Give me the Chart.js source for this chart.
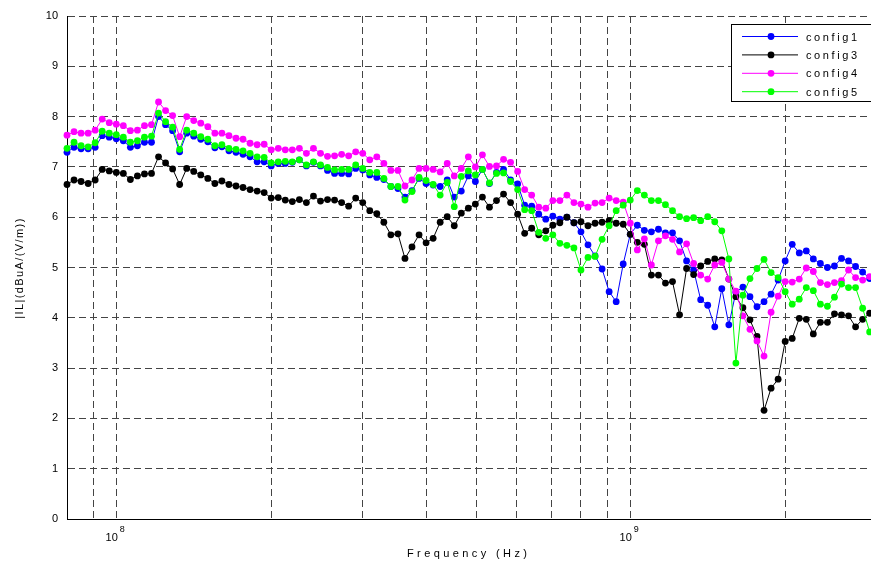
<!DOCTYPE html>
<html>
<head>
<meta charset="utf-8">
<script src="https://cdn.jsdelivr.net/npm/chart.js@4.4.1/dist/chart.umd.min.js"></script>
<style>
  html, body { margin: 0; padding: 0; background: #fff; overflow: hidden; }
  #wrap { width: 871px; height: 565px; overflow: hidden; position: relative; }
  #chart { display: block; }
</style>
</head>
<body>
<div id="wrap"><canvas id="chart" width="880" height="565" style="width:880px;height:565px"></canvas></div>
<script>
// measurement frequencies (MHz), log spaced
var freqMHz = [
  80.00, 82.56, 85.21, 87.94, 90.76, 93.67, 96.67, 99.77, 102.97, 106.27,
  109.67, 113.19, 116.81, 120.56, 124.42, 128.41, 132.52, 136.77, 141.15, 145.68,
  150.35, 155.17, 160.14, 165.27, 170.57, 176.03, 181.67, 187.50, 193.50, 199.71,
  206.11, 212.71, 219.53, 226.56, 233.82, 241.32, 249.05, 257.03, 265.27, 273.77,
  282.54, 291.59, 300.94, 310.58, 320.53, 330.80, 341.40, 352.34, 363.63, 375.28,
  387.31, 399.72, 412.53, 425.75, 439.39, 453.47, 468.00, 483.00, 498.48, 514.45,
  530.94, 547.95, 565.51, 583.63, 602.33, 621.63, 641.55, 662.11, 683.33, 705.23,
  727.83, 751.15, 775.22, 800.0, 825.6, 852.1, 879.4, 907.6, 936.7, 966.7,
  997.7, 1029.7, 1062.7, 1096.7, 1131.9, 1168.1, 1205.6, 1244.2, 1284.1, 1325.2,
  1367.7, 1411.5, 1456.8, 1503.5, 1551.7, 1601.4, 1652.7, 1705.7, 1760.3, 1816.7,
  1875.0, 1935.0, 1997.1, 2061.1, 2127.1, 2195.3, 2265.6, 2338.2, 2413.2, 2490.5,
  2570.3, 2652.7, 2737.7, 2825.4, 2915.9
];

var config1 = [
  7.29, 7.39, 7.36, 7.36, 7.39, 7.62, 7.59, 7.56, 7.52, 7.39,
  7.42, 7.49, 7.49, 8.00, 7.84, 7.72, 7.30, 7.67, 7.61, 7.55,
  7.50, 7.38, 7.40, 7.32, 7.29, 7.25, 7.20, 7.10, 7.10, 7.02,
  7.07, 7.07, 7.09, 7.14, 7.02, 7.09, 7.02, 6.93, 6.87, 6.87,
  6.86, 6.97, 6.94, 6.84, 6.79, 6.75, 6.61, 6.57, 6.40, 6.53,
  6.77, 6.67, 6.64, 6.61, 6.74, 6.40, 6.52, 6.82, 6.71, 6.95,
  6.67, 6.89, 6.95, 6.74, 6.66, 6.24, 6.22, 6.06, 5.96, 6.02,
  5.96, 6.00, 5.89, 5.71, 5.45, 5.23, 4.97, 4.52, 4.32, 5.07,
  5.66, 5.84, 5.74, 5.71, 5.76, 5.69, 5.69, 5.53, 5.13, 4.95,
  4.36, 4.25, 3.82, 4.58, 3.86, 4.51, 4.61, 4.42, 4.22, 4.32,
  4.47, 4.75, 5.13, 5.46, 5.29, 5.33, 5.17, 5.08, 5.00, 5.03,
  5.18, 5.13, 5.02, 4.91, 4.78
];

var config3 = [
  6.65, 6.74, 6.71, 6.67, 6.74, 6.95, 6.92, 6.89, 6.87, 6.75,
  6.82, 6.86, 6.87, 7.20, 7.08, 6.96, 6.65, 6.97, 6.91, 6.84,
  6.77, 6.67, 6.72, 6.65, 6.62, 6.59, 6.55, 6.52, 6.49, 6.38,
  6.39, 6.34, 6.31, 6.35, 6.29, 6.42, 6.32, 6.35, 6.34, 6.29,
  6.22, 6.38, 6.29, 6.13, 6.07, 5.90, 5.65, 5.67, 5.18, 5.41,
  5.65, 5.49, 5.58, 5.90, 6.01, 5.83, 6.08, 6.18, 6.26, 6.40,
  6.20, 6.33, 6.46, 6.29, 6.06, 5.68, 5.78, 5.65, 5.73, 5.84,
  5.89, 6.00, 5.89, 5.91, 5.83, 5.88, 5.90, 5.93, 5.88, 5.86,
  5.66, 5.50, 5.46, 4.85, 4.85, 4.69, 4.72, 4.06, 4.98, 4.86,
  5.03, 5.12, 5.17, 5.15, 4.77, 4.42, 4.20, 3.96, 3.63, 2.16,
  2.60, 2.78, 3.53, 3.59, 3.99, 3.97, 3.68, 3.91, 3.91, 4.08,
  4.06, 4.04, 3.82, 3.97, 4.09
];

var config4 = [
  7.63, 7.70, 7.67, 7.67, 7.73, 7.95, 7.88, 7.85, 7.82, 7.72,
  7.73, 7.82, 7.84, 8.29, 8.12, 8.02, 7.60, 8.00, 7.92, 7.87,
  7.80, 7.67, 7.67, 7.62, 7.57, 7.55, 7.47, 7.44, 7.45, 7.34,
  7.37, 7.34, 7.34, 7.37, 7.27, 7.37, 7.27, 7.21, 7.22, 7.25,
  7.22, 7.30, 7.27, 7.14, 7.20, 7.07, 6.93, 6.93, 6.62, 6.74,
  6.97, 6.97, 6.95, 6.90, 7.07, 6.82, 6.97, 7.20, 7.00, 7.24,
  7.01, 7.02, 7.15, 7.09, 6.91, 6.55, 6.44, 6.20, 6.18, 6.33,
  6.33, 6.44, 6.29, 6.26, 6.20, 6.28, 6.29, 6.38, 6.33, 6.30,
  5.88, 5.35, 5.57, 5.05, 5.53, 5.63, 5.56, 5.31, 5.47, 5.08,
  4.85, 4.77, 5.05, 5.10, 4.77, 4.53, 4.04, 3.77, 3.54, 3.24,
  4.11, 4.43, 4.72, 4.71, 4.77, 4.99, 4.92, 4.70, 4.66, 4.70,
  4.74, 4.95, 4.80, 4.75, 4.82
];

var config5 = [
  7.37, 7.49, 7.42, 7.40, 7.48, 7.71, 7.67, 7.64, 7.59, 7.49,
  7.52, 7.59, 7.61, 8.07, 7.90, 7.79, 7.35, 7.73, 7.67, 7.60,
  7.55, 7.42, 7.44, 7.37, 7.35, 7.32, 7.27, 7.20, 7.19, 7.08,
  7.10, 7.11, 7.10, 7.14, 7.04, 7.10, 7.04, 6.99, 6.94, 6.95,
  6.95, 7.04, 6.97, 6.89, 6.89, 6.77, 6.61, 6.61, 6.34, 6.51,
  6.79, 6.73, 6.65, 6.44, 6.69, 6.21, 6.81, 6.92, 6.84, 6.95,
  6.68, 6.87, 6.88, 6.71, 6.55, 6.15, 6.13, 5.70, 5.58, 5.65,
  5.48, 5.44, 5.39, 4.95, 5.20, 5.22, 5.56, 5.83, 6.13, 6.24,
  6.34, 6.53, 6.44, 6.33, 6.33, 6.25, 6.13, 6.01, 5.97, 5.99,
  5.93, 6.01, 5.91, 5.73, 5.17, 3.10, 4.45, 4.78, 4.98, 5.16,
  4.90, 4.80, 4.52, 4.27, 4.37, 4.60, 4.54, 4.27, 4.23, 4.41,
  4.67, 4.60, 4.60, 4.19, 3.72
];

var seriesNames = ['config1', 'config3', 'config4', 'config5'];
var seriesColors = ['#0000ff', '#000000', '#ff00ff', '#00ff00'];
var seriesValues = [config1, config3, config4, config5];

// grid positions on the log axis and the decades that get a label
var gridHz = [9e7, 1e8, 2e8, 3e8, 4e8, 5e8, 6e8, 7e8, 8e8, 9e8, 1e9, 2e9, 3e9];
var decadeExp = [8, 9];

var FONT = '"Liberation Sans", Arial, sans-serif';

function toPoints(vals) {
  return vals.map(function (v, i) { return { x: freqMHz[i] * 1e6, y: v }; });
}

var datasets = seriesValues.map(function (vals, k) {
  return {
    label: seriesNames[k],
    data: toPoints(vals),
    borderColor: seriesColors[k],
    backgroundColor: seriesColors[k],
    borderWidth: 1,
    pointRadius: 3.4,
    pointBorderWidth: 0,
    pointBackgroundColor: seriesColors[k],
    tension: 0,
    clip: false,
    order: 4 - k
  };
});

// MATLAB style texts: axis titles, 10^n labels and the legend box
var matlabText = {
  id: 'matlabText',
  afterDraw: function (chart) {
    var ctx = chart.ctx;
    var xs = chart.scales.x;
    ctx.save();
    ctx.fillStyle = '#000';
    ctx.textBaseline = 'alphabetic';

    // decade labels
    decadeExp.forEach(function (e) {
      var px = xs.getPixelForValue(Math.pow(10, e));
      ctx.font = '11px ' + FONT;
      ctx.textAlign = 'right';
      ctx.fillText('10', px + 1, 541);
      ctx.font = '9px ' + FONT;
      ctx.textAlign = 'left';
      ctx.fillText(String(e), px + 3, 532);
    });

    // x title
    ctx.font = '11px ' + FONT;
    ctx.letterSpacing = '3.4px';
    ctx.textAlign = 'left';
    ctx.fillText('Frequency (Hz)', 407, 557);

    // y title
    ctx.save();
    ctx.translate(23, 268);
    ctx.rotate(-Math.PI / 2);
    ctx.letterSpacing = '1.4px';
    ctx.textAlign = 'center';
    ctx.fillText('|IL|(dBuA/(V/m))', 0, 0);
    ctx.restore();

    // legend
    ctx.letterSpacing = '0px';
    ctx.fillStyle = '#fff';
    ctx.fillRect(731, 24, 160, 77);
    ctx.strokeStyle = '#000';
    ctx.lineWidth = 1;
    ctx.strokeRect(731.5, 24.5, 160, 77);
    seriesNames.forEach(function (name, k) {
      var y = 36 + k * 18.4;
      ctx.strokeStyle = seriesColors[k];
      ctx.beginPath();
      ctx.moveTo(742, y + 0.5);
      ctx.lineTo(798, y + 0.5);
      ctx.stroke();
      ctx.fillStyle = seriesColors[k];
      ctx.beginPath();
      ctx.arc(771, y + 0.5, 3.4, 0, Math.PI * 2);
      ctx.fill();
      ctx.fillStyle = '#000';
      ctx.font = '11px ' + FONT;
      ctx.letterSpacing = '2.6px';
      ctx.textAlign = 'left';
      ctx.fillText(name, 806, y + 4.5);
      ctx.letterSpacing = '0px';
    });
    ctx.restore();
  }
};

new Chart(document.getElementById('chart'), {
  type: 'line',
  data: { datasets: datasets },
  options: {
    responsive: false,
    animation: false,
    devicePixelRatio: 1,
    layout: { padding: { left: 0, top: 16, right: 2, bottom: 0 } },
    plugins: { legend: { display: false }, tooltip: { enabled: false } },
    scales: {
      x: {
        type: 'logarithmic',
        min: 8e7,
        max: 3e9,
        afterBuildTicks: function (axis) {
          axis.ticks = gridHz.map(function (v) { return { value: v }; });
        },
        afterFit: function (scale) { scale.height = 46; },
        ticks: { display: false },
        grid: { color: '#444', lineWidth: 1, drawTicks: false },
        border: { display: true, color: '#000', width: 1, dash: [7, 4] }
      },
      y: {
        min: 0,
        max: 10,
        afterFit: function (scale) { scale.width = 67; },
        ticks: {
          stepSize: 1,
          padding: 9,
          color: '#000',
          font: { family: FONT, size: 11 }
        },
        grid: { color: '#444', lineWidth: 1, drawTicks: false },
        border: { display: true, color: '#000', width: 1, dash: [7, 4] }
      }
    }
  },
  plugins: [matlabText]
});
</script>
</body>
</html>
